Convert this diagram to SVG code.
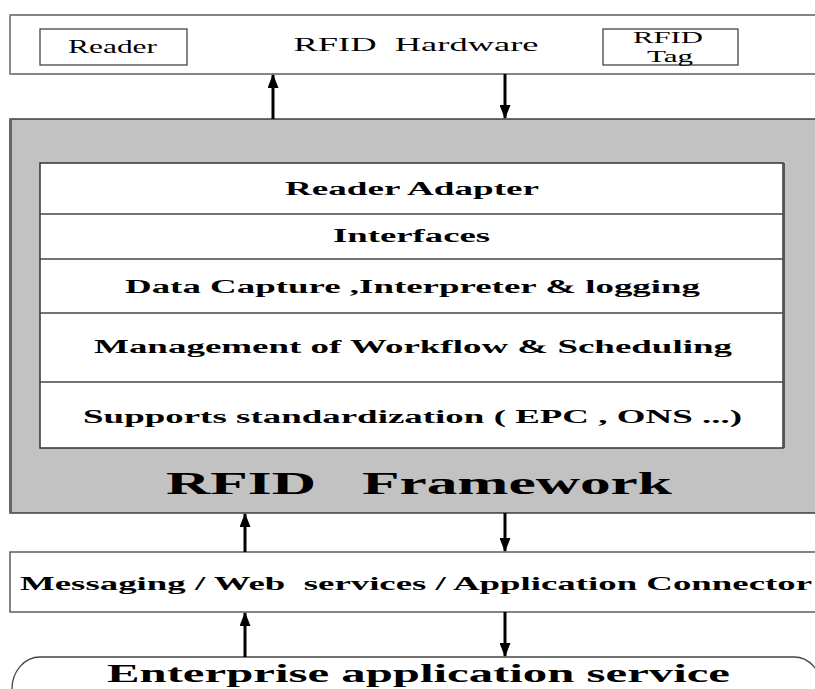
<svg xmlns="http://www.w3.org/2000/svg" width="815" height="689" viewBox="0 0 815 689">
<defs>
<style>
.t{font-family:"Liberation Serif","Times New Roman",serif;fill:#000;text-anchor:middle;white-space:pre}
.b{font-weight:bold}
.box{fill:#fff;stroke:#444;stroke-width:1.3}
.ln{stroke:#000;stroke-width:3;fill:none}
</style>
<marker id="ah" viewBox="0 0 14 11" refX="13" refY="5.5" markerWidth="14" markerHeight="11" markerUnits="userSpaceOnUse" orient="auto">
<path d="M0,0 L14,5.5 L0,11 Z" fill="#000"/>
</marker>
</defs>
<rect width="815" height="689" fill="#fff"/>
<g id="hardware">
<rect class="box" x="10" y="15" width="820" height="59"/>
<line x1="10" y1="15" x2="10" y2="74" stroke="#888" stroke-width="2"/>
<text class="t" transform="matrix(1.92,0,0,1,416,51)" font-size="19" textLength="127.6" lengthAdjust="spacingAndGlyphs">RFID  Hardware</text>
</g>
<g id="reader">
<rect class="box" x="40" y="29" width="147" height="36"/>
<text class="t" transform="matrix(1.92,0,0,1,112.5,53)" font-size="18" textLength="46.4" lengthAdjust="spacingAndGlyphs">Reader</text>
</g>
<g id="tag">
<rect class="box" x="603" y="29" width="135" height="36"/>
<text class="t" transform="matrix(1.92,0,0,1,668,43)" font-size="17" textLength="36.5" lengthAdjust="spacingAndGlyphs">RFID</text>
<text class="t" transform="matrix(1.92,0,0,1,670,62)" font-size="17" textLength="24" lengthAdjust="spacingAndGlyphs">Tag</text>
</g>
<g id="framework">
<rect x="10" y="119" width="820" height="394" fill="#c2c2c2" stroke="#222" stroke-width="1.3"/>
<line x1="10.5" y1="119" x2="10.5" y2="513" stroke="#666" stroke-width="3"/>
<text class="t b" transform="matrix(1.92,0,0,1,419,494)" font-size="32" textLength="263.5" lengthAdjust="spacingAndGlyphs">RFID   Framework</text>
</g>
<g id="layers">
<rect x="40" y="163" width="743" height="285" fill="#fff" stroke="#333" stroke-width="1.5"/>
<line x1="784" y1="163" x2="784" y2="448" stroke="#555" stroke-width="2"/>
<line x1="40" y1="214" x2="783" y2="214" stroke="#444" stroke-width="1.3"/>
<line x1="40" y1="259" x2="783" y2="259" stroke="#444" stroke-width="1.3"/>
<line x1="40" y1="313" x2="783" y2="313" stroke="#444" stroke-width="1.3"/>
<line x1="40" y1="382" x2="783" y2="382" stroke="#444" stroke-width="1.3"/>
</g>
<g id="reader-adapter"><text class="t b" transform="matrix(1.92,0,0,1,412,195)" font-size="19" textLength="132.3" lengthAdjust="spacingAndGlyphs">Reader Adapter</text></g>
<g id="interfaces"><text class="t b" transform="matrix(1.92,0,0,1,411.5,242)" font-size="19" textLength="81.8" lengthAdjust="spacingAndGlyphs">Interfaces</text></g>
<g id="data-capture"><text class="t b" transform="matrix(1.92,0,0,1,412.5,293)" font-size="19" textLength="299.5" lengthAdjust="spacingAndGlyphs">Data Capture ,Interpreter &amp; logging</text></g>
<g id="management"><text class="t b" transform="matrix(1.92,0,0,1,413,353)" font-size="19" textLength="332.3" lengthAdjust="spacingAndGlyphs">Management of Workflow &amp; Scheduling</text></g>
<g id="standards"><text class="t b" transform="matrix(1.92,0,0,1,412.5,423)" font-size="19" textLength="343.2" lengthAdjust="spacingAndGlyphs">Supports standardization ( EPC , ONS ...)</text></g>
<g id="messaging">
<rect class="box" x="10" y="552" width="820" height="60"/>
<text class="t b" transform="matrix(1.92,0,0,1,416,590)" font-size="18.5" textLength="412.5" lengthAdjust="spacingAndGlyphs">Messaging / Web  services / Application Connector</text>
</g>
<g id="enterprise">
<rect x="12" y="657" width="810" height="70" rx="28" ry="32" fill="#fff" stroke="#444" stroke-width="1.3"/>
<text class="t b" transform="matrix(1.92,0,0,1,418.5,682)" font-size="25" textLength="324.5" lengthAdjust="spacingAndGlyphs">Enterprise application service</text>
</g>
<g id="connectors">
<line class="ln" x1="273" y1="119" x2="273" y2="75" marker-end="url(#ah)"/>
<line class="ln" x1="505" y1="74" x2="505" y2="118" marker-end="url(#ah)"/>
<line class="ln" x1="245" y1="552" x2="245" y2="514" marker-end="url(#ah)"/>
<line class="ln" x1="505" y1="513" x2="505" y2="551" marker-end="url(#ah)"/>
<line class="ln" x1="245" y1="657" x2="245" y2="613" marker-end="url(#ah)"/>
<line class="ln" x1="505" y1="612" x2="505" y2="656" marker-end="url(#ah)"/>
</g>
</svg>
